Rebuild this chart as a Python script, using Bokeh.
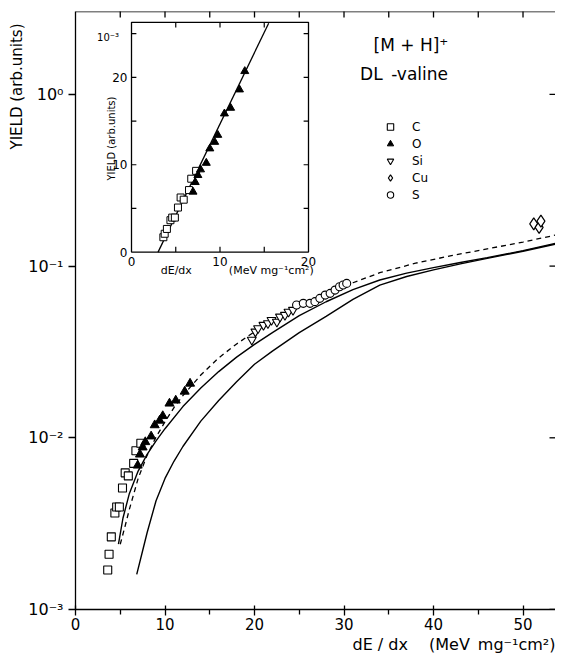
import math
from bokeh.plotting import figure
from bokeh.models import (Range1d, FixedTicker, Label, Legend, LegendItem, LinearScale, Span, Title)
from bokeh.core.properties import value
from bokeh.embed import file_html
from bokeh.resources import INLINE

# ---------------- data ----------------
# C projectile (yield in units of 1e-3)
c_x = [3.6, 3.75, 4.0, 4.4, 4.6, 4.9, 5.25, 5.55, 5.9, 6.5, 6.75, 7.3]
c_y = [1.7, 2.1, 2.65, 3.65, 3.95, 3.95, 5.1, 6.25, 6.0, 7.1, 8.4, 9.3]
# O projectile (yield in units of 1e-3)
o_x = [6.95, 7.2, 7.5, 7.8, 8.45, 8.85, 9.4, 9.75, 10.5, 11.2, 12.2, 12.8]
o_y = [6.9, 8.0, 8.8, 9.45, 10.2, 11.85, 12.6, 13.4, 15.85, 16.5, 18.6, 20.7]
# Si, Cu, S projectiles (arb. units)
si_x = [19.7, 20.1, 20.4, 21.0, 21.5, 21.9, 22.5, 22.85, 23.4, 23.8, 24.3]
si_y = [0.0372, 0.0415, 0.0434, 0.0454, 0.0464, 0.0485, 0.0474, 0.0507, 0.0519, 0.0542, 0.0555]
cu_x = [51.2, 51.8, 52.0]
cu_y = [0.176, 0.168, 0.183]
s_x = [24.7, 25.45, 26.2, 26.75, 27.3, 27.9, 28.45, 29.0, 29.5, 29.9, 30.3]
s_y = [0.0593, 0.0607, 0.0607, 0.0621, 0.0649, 0.0678, 0.0694, 0.0725, 0.0758, 0.0776, 0.0793]

# model curves
curve_a_x = [4.8, 5.3, 6, 7, 8, 9, 10, 12, 14, 16, 18, 20, 22, 25, 28, 31, 34, 37, 40, 43, 46, 50, 53.6]
curve_a_y = [0.0024, 0.0034, 0.0047, 0.0064, 0.0080, 0.0096, 0.0113, 0.0152, 0.0195, 0.0243, 0.0295,
             0.0350, 0.0410, 0.0515, 0.0620, 0.0730, 0.0830, 0.0910, 0.0980, 0.1050, 0.1120, 0.1230, 0.1355]
curve_b_x = [6.84, 7.5, 8, 9, 10, 11, 12, 14, 16, 18, 20, 22, 25, 28, 31, 34, 37, 40, 43, 46, 50, 53.6]
curve_b_y = [0.0016, 0.0022, 0.0028, 0.0043, 0.0058, 0.0073, 0.0089, 0.0125, 0.0165, 0.0212, 0.0268,
             0.0320, 0.0410, 0.0510, 0.0640, 0.0775, 0.0870, 0.0950, 0.1030, 0.1110, 0.1220, 0.1340]
curve_d_x = [5.0, 5.5, 6, 7, 8, 9, 10, 11, 12, 14, 16, 18, 20, 22, 25, 28, 31, 34, 38, 42, 46, 50, 54.5]
curve_d_y = [0.0024, 0.0030, 0.0038, 0.0058, 0.0079, 0.0101, 0.0124, 0.0150, 0.0176, 0.0232, 0.0292,
             0.0352, 0.0415, 0.0478, 0.0575, 0.0685, 0.0800, 0.0915, 0.1040, 0.1150, 0.1260, 0.1380, 0.1550]

# inset linear fit (yield in 1e-3)
fit_x = [3.0, 15.5]
fit_y = [0.0, 26.2]

x_ticks = [0, 10, 20, 30, 40, 50]
x_minor = [5, 15, 25, 35, 45, 55]
top_ticks = [5, 10, 15, 20, 25, 30, 35, 40, 45, 50]
y_ticks = [1e-3, 1e-2, 1e-1, 1.0]
y_tick_labels = ["10\u207b\u00b3", "10\u207b\u00b2", "10\u207b\u00b9", "10\u2070"]

inset_xlim = [0, 20]
inset_ylim = [0, 26.3]
inset_x_ticks = [0, 10, 20]
inset_y_ticks = [0, 10, 20]
inset_x_minor = [5, 10, 15]
inset_y_minor = [5, 10, 15, 20, 25]

legend_labels = ["C", "O", "Si", "Cu", "S"]

FONT = "DejaVu Sans"
X_MAX = 53.63
Y_MIN, Y_MAX = 1e-3, 3.04

# ---------------- figure ----------------
p = figure(width=555, height=653, x_range=Range1d(0, X_MAX), y_range=Range1d(Y_MIN, Y_MAX),
           y_axis_type="log", output_backend="svg", toolbar_location=None,
           min_border_left=75, min_border_right=0, min_border_top=11, min_border_bottom=43,
           outline_line_color=None, background_fill_color="white", border_fill_color="white")
p.grid.visible = False

xa = p.xaxis[0]
xa.ticker = FixedTicker(ticks=x_ticks, minor_ticks=x_minor)
xa.major_tick_in = 4
xa.major_tick_out = 6
xa.minor_tick_in = 0
xa.minor_tick_out = 5
xa.axis_line_width = 1.3
xa.major_tick_line_width = 1.3
xa.minor_tick_line_width = 1.3
xa.major_label_text_font_size = "15px"
xa.major_label_text_font = FONT
xa.major_label_text_color = "black"
xa.major_label_standoff = 2

ya = p.yaxis[0]
ya.ticker = FixedTicker(ticks=y_ticks, minor_ticks=[])
ya.major_label_overrides = dict(zip(y_ticks, y_tick_labels))
ya.major_tick_in = 0
ya.major_tick_out = 7
ya.axis_line_width = 1.3
ya.major_tick_line_width = 1.3
ya.major_label_text_font_size = "16px"
ya.major_label_text_font = FONT
ya.major_label_text_color = "black"
ya.major_label_standoff = 5

# axis titles placed in the side panels
p.add_layout(Title(text="YIELD (arb.units)", align="right", offset=12, standoff=0,
                   text_font_size="15px", text_font=FONT, text_font_style="normal",
                   text_color="black"), "left")
p.add_layout(Title(text="dE / dx\u2003 (MeV\u2002mg\u207b\u00b9cm\u00b2)", align="right", offset=0, standoff=0,
                   text_font_size="16px", text_font=FONT, text_font_style="normal",
                   text_color="black"), "below")

# top frame line and inward ticks on top / right edges (outer halves clipped by the frame)
p.add_layout(Span(location=Y_MAX, dimension="width", line_color="black", line_width=1.3))
p.scatter(x=top_ticks, y=[Y_MAX] * len(top_ticks), marker="dash", angle=math.pi / 2, size=12,
          line_color="black", line_width=1.3)
p.scatter(x=[X_MAX] * len(y_ticks), y=y_ticks, marker="dash", size=12,
          line_color="black", line_width=1.3)

# curves
p.line(curve_a_x, curve_a_y, line_color="black", line_width=1.4)
p.line(curve_b_x, curve_b_y, line_color="black", line_width=1.4)
p.line(curve_d_x, curve_d_y, line_color="black", line_width=1.3, line_dash="5 4")

# data
c_main = [v * 1e-3 for v in c_y]
o_main = [v * 1e-3 for v in o_y]
r_c = p.scatter(c_x, c_main, marker="square", size=8, fill_color="white", line_color="black", line_width=1.1)
r_o = p.scatter(o_x, o_main, marker="triangle", size=9, fill_color="black", line_color="black")
r_si = p.scatter(si_x, si_y, marker="inverted_triangle", size=9, fill_color="white", line_color="black", line_width=1.1)
r_cu = p.scatter(cu_x, cu_y, marker="diamond", size=12, fill_color="white", line_color="black", line_width=1.2)
r_s = p.scatter(s_x, s_y, marker="circle", size=8, fill_color="white", line_color="black", line_width=1.1)

legend = Legend(items=[LegendItem(label=l, renderers=[r]) for l, r in
                       zip(legend_labels, [r_c, r_o, r_si, r_cu, r_s])],
                location=(307, 406), orientation="vertical", border_line_color=None,
                background_fill_alpha=0, glyph_width=16, glyph_height=17, label_height=17,
                label_standoff=14, spacing=0, padding=0, margin=0,
                label_text_font_size="12px", label_text_font=FONT, label_text_color="black")
p.add_layout(legend)

# texts inside the frame
p.add_layout(Label(x=33.3, y=1.93, text="[M + H]\u207a", text_font_size="17px", text_font=FONT,
                   text_baseline="middle", text_color="black"))
p.add_layout(Label(x=31.8, y=1.32, text="DL\u2002-valine", text_font_size="17px", text_font=FONT,
                   text_baseline="middle", text_color="black"))

# ---------------- inset ----------------
p.extra_x_ranges = {"ix": Range1d(-6.328, 47.91)}
p.extra_y_ranges = {"iy": Range1d(-40.91, 27.54)}
p.extra_x_scales = {"ix": LinearScale()}
p.extra_y_scales = {"iy": LinearScale()}
kw = dict(x_range_name="ix", y_range_name="iy")

p.quad(left=[inset_xlim[0]], right=[inset_xlim[1]], bottom=[inset_ylim[0]], top=[inset_ylim[1]],
       fill_color="white", line_color="black", line_width=1.3, **kw)
# ticks (inward)
p.segment(x0=[inset_xlim[0]] * len(inset_y_minor), x1=[inset_xlim[0] + 0.55] * len(inset_y_minor),
          y0=inset_y_minor, y1=inset_y_minor, line_color="black", line_width=1.2, **kw)
p.segment(x0=[inset_xlim[1]] * len(inset_y_minor), x1=[inset_xlim[1] - 0.55] * len(inset_y_minor),
          y0=inset_y_minor, y1=inset_y_minor, line_color="black", line_width=1.2, **kw)
p.segment(x0=inset_x_minor, x1=inset_x_minor, y0=[inset_ylim[0]] * len(inset_x_minor),
          y1=[inset_ylim[0] + 0.6] * len(inset_x_minor), line_color="black", line_width=1.2, **kw)
p.segment(x0=inset_x_minor, x1=inset_x_minor, y0=[inset_ylim[1]] * len(inset_x_minor),
          y1=[inset_ylim[1] - 0.6] * len(inset_x_minor), line_color="black", line_width=1.2, **kw)
# tick labels and titles
tk = dict(text_font=value(FONT), text_color="black")
p.text(x=inset_x_ticks, y=[inset_ylim[0]] * 3, text=[str(t) for t in inset_x_ticks], y_offset=5,
       text_align="center", text_baseline="top", text_font_size="12px", **tk, **kw)
p.text(x=[inset_xlim[0]] * 3, y=inset_y_ticks, text=[str(t) for t in inset_y_ticks], x_offset=-4,
       text_align="right", text_baseline="middle", text_font_size="12px", **tk, **kw)
p.text(x=[-1.4], y=[24.6], text=["10\u207b\u00b3"], text_align="right", text_baseline="middle",
       text_font_size="10px", **tk, **kw)
p.text(x=[-2.3], y=[13.0], text=["YIELD (arb.units)"], angle=math.pi / 2, text_align="center",
       text_baseline="middle", text_font_size="10px", **tk, **kw)
p.text(x=[3.3], y=[-2.1], text=["dE/dx"], text_align="left", text_baseline="middle",
       text_font_size="11px", **tk, **kw)
p.text(x=[11.0], y=[-2.1], text=["(MeV mg\u207b\u00b9cm\u00b2)"], text_align="left", text_baseline="middle",
       text_font_size="11px", **tk, **kw)

p.line(fit_x, fit_y, line_color="black", line_width=1.3, **kw)
p.scatter(c_x, c_y, marker="square", size=7, fill_color="white", line_color="black", line_width=1.0, **kw)
p.scatter(o_x, o_y, marker="triangle", size=8, fill_color="black", line_color="black", **kw)

open("out.html", "w").write(file_html(p, INLINE))
